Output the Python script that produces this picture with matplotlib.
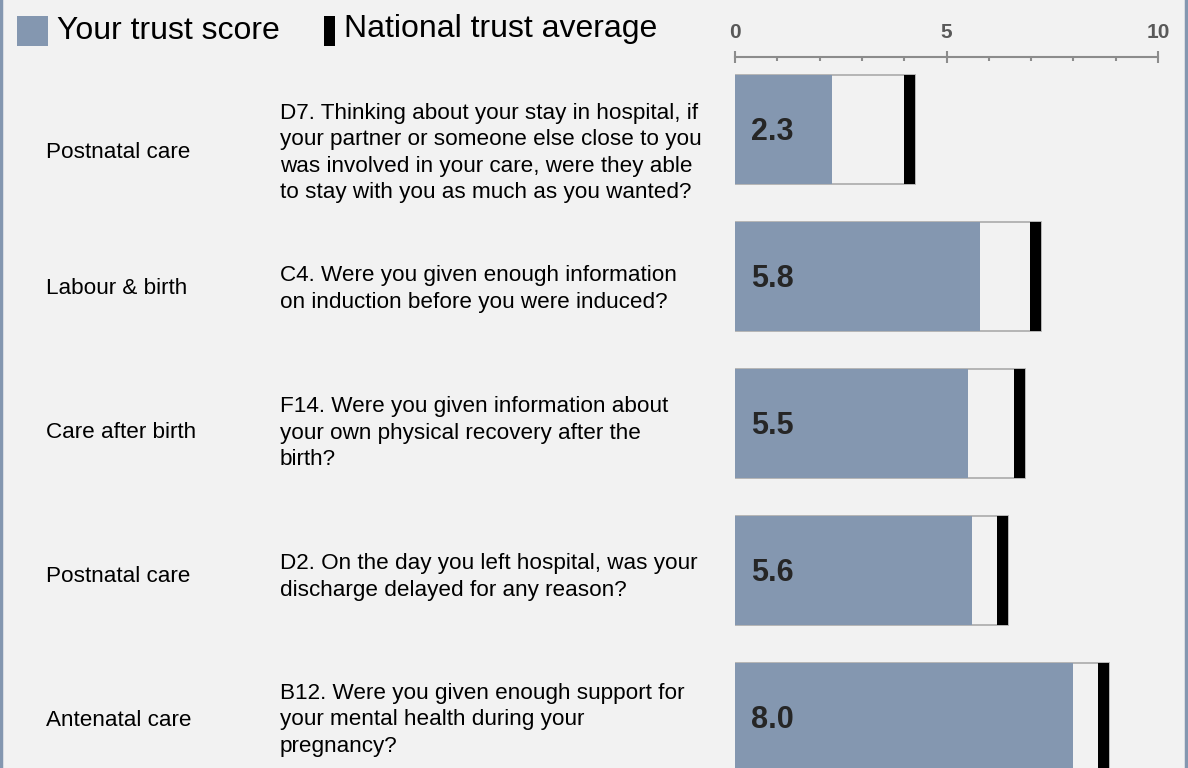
import matplotlib.pyplot as plt
from matplotlib.patches import Rectangle
from matplotlib.ticker import MultipleLocator

plt.rcParams['font.family'] = ['Liberation Sans', 'DejaVu Sans']

sections = ['Postnatal care', 'Labour & birth', 'Care after birth',
            'Postnatal care', 'Antenatal care']
questions = [
    'D7. Thinking about your stay in hospital, if\nyour partner or someone else close to you\n'
    'was involved in your care, were they able\nto stay with you as much as you wanted?',
    'C4. Were you given enough information\non induction before you were induced?',
    'F14. Were you given information about\nyour own physical recovery after the\nbirth?',
    'D2. On the day you left hospital, was your\ndischarge delayed for any reason?',
    'B12. Were you given enough support for\nyour mental health during your\npregnancy?',
]
trust_score = [2.3, 5.8, 5.5, 5.6, 8.0]
national_avg = [4.13, 7.11, 6.73, 6.32, 8.71]

W, H = 1188, 768
BG = '#f2f2f2'
BLUE = '#8497b0'

fig = plt.figure(figsize=(W / 100, H / 100), dpi=100, facecolor=BG)

# bar panel: x 0..10 maps to px 735..1158, axis line at y=57px
ax = fig.add_axes([735 / W, 0, (1158 - 735) / W, 1 - 57 / H])
ax.set_facecolor('none')
ax.set_xlim(0, 10)
pitch = 147.0
ax.set_ylim((768 - 129.5) / pitch, (57 - 129.5) / pitch)

rows = range(len(trust_score))
bar_h = 109 / pitch
mark_w = 0.25
box_w = [v + mark_w / 2 for v in national_avg]
ax.barh(rows, box_w, height=bar_h, color='none', edgecolor='#b0b0b0',
        linewidth=1.3, zorder=1)
ax.barh(rows, trust_score, height=bar_h, color=BLUE, linewidth=0, zorder=2)
ax.barh(rows, mark_w, left=[v - mark_w / 2 for v in national_avg],
        height=bar_h, color='black', linewidth=0, zorder=3)

for i, v in zip(rows, trust_score):
    ax.text(0.38, i + 0.02, f'{v:.1f}', ha='left', va='center', fontsize=22,
            fontweight='bold', color='#262626', zorder=4)

for s in ['left', 'right', 'bottom']:
    ax.spines[s].set_visible(False)
ax.spines['top'].set_color('#8c8c8c')
ax.spines['top'].set_linewidth(1.5)
ax.xaxis.tick_top()
ax.set_xticks([0, 5, 10])
ax.xaxis.set_minor_locator(MultipleLocator(1))
ax.tick_params(axis='x', which='major', direction='inout', length=8,
               width=1.5, color='#8c8c8c', labelsize=15, labelcolor='#595959',
               pad=6.5)
ax.tick_params(axis='x', which='minor', direction='in', length=3,
               width=1.5, color='#8c8c8c')
for lab in ax.get_xticklabels():
    lab.set_fontweight('bold')
ax.set_yticks([])

# row texts
text_y = [153, 289, 433, 577, 720]
for sec, q, y in zip(sections, questions, text_y):
    fig.text(46 / W, 1 - y / H, sec, ha='left', va='center', fontsize=16.2,
             color='black')
    fig.text(280 / W, 1 - y / H, q, ha='left', va='center', fontsize=16.2,
             color='black', linespacing=1.33)

# legend
fig.add_artist(Rectangle((17 / W, 1 - 46 / H), 31 / W, 30 / H,
                         transform=fig.transFigure, color=BLUE, lw=0))
fig.text(57 / W, 1 - 31 / H, 'Your trust score', ha='left', va='center',
         fontsize=23, color='black')
fig.add_artist(Rectangle((324 / W, 1 - 46 / H), 11 / W, 30 / H,
                         transform=fig.transFigure, color='black', lw=0))
fig.text(344 / W, 1 - 29 / H, 'National trust average', ha='left',
         va='center', fontsize=23, color='black')

# frame at left and right edges
for x in [1 / W, 1 - 2 / W]:
    fig.add_artist(plt.Line2D([x, x], [0, 1], transform=fig.transFigure,
                              color=BLUE, lw=2.5))

fig.savefig('out.png', dpi=100, facecolor=BG)
